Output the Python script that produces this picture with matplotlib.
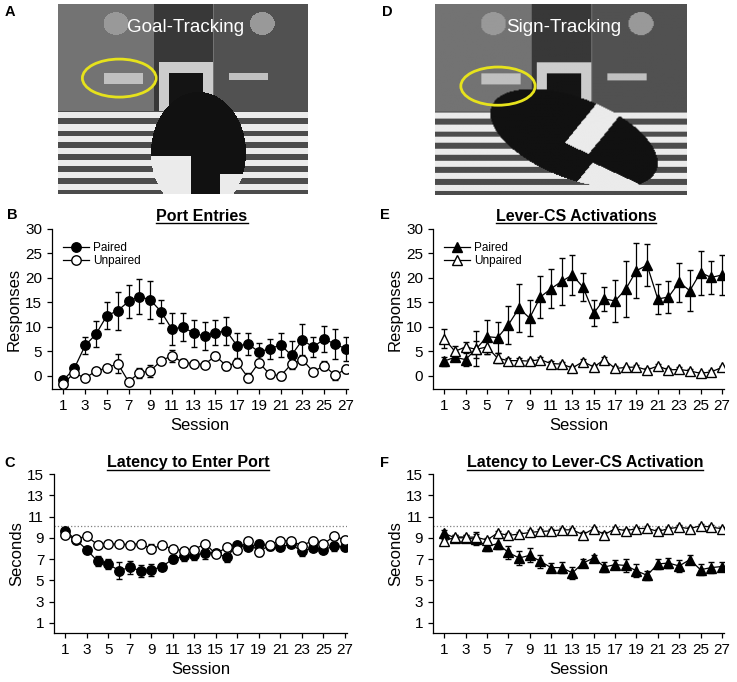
import numpy as np
import matplotlib
matplotlib.use("Agg")
import matplotlib.pyplot as plt
from matplotlib.lines import Line2D
from matplotlib.patches import Ellipse

plt.rcParams["font.family"] = ["Liberation Sans", "DejaVu Sans"]

sessions = np.arange(1, 28)

# Port entries (B)
port_paired = [-0.9, 1.5, 6.2, 8.5, 12.3, 13.3, 15.2, 16.2, 15.5, 13.1, 9.5, 10.0, 8.7, 8.1,
               8.8, 9.2, 6.1, 6.5, 4.9, 5.5, 6.3, 4.2, 7.3, 5.9, 7.5, 6.5, 5.5]
port_paired_err = [0.4, 0.5, 1.8, 2.6, 2.8, 3.9, 3.4, 3.6, 3.8, 2.4, 3.3, 2.9, 2.8, 2.9,
                   2.5, 2.9, 2.7, 2.3, 1.9, 2.0, 2.5, 2.9, 3.2, 2.0, 2.7, 3.0, 2.5]
port_unpaired = [-1.6, 0.6, -0.5, 1.0, 1.6, 2.5, -1.2, 0.6, 1.0, 3.1, 4.1, 2.7, 2.5, 2.3,
                 4.1, 2.0, 2.7, -0.4, 2.7, 0.3, 0.0, 2.4, 3.3, 0.8, 2.1, 0.1, 1.4]
port_unpaired_err = [0.5, 0.6, 0.6, 0.6, 0.7, 1.9, 0.7, 1.0, 1.3, 0.6, 1.2, 0.8, 0.7, 0.7,
                     0.7, 0.8, 1.0, 0.9, 0.8, 0.7, 0.8, 0.9, 0.9, 0.7, 0.9, 0.9, 0.8]

# Lever-CS activations (E)
lever_paired = [3.0, 3.8, 3.3, 5.5, 8.0, 7.8, 10.4, 13.8, 11.8, 16.1, 17.8, 19.3, 20.6, 18.1,
                12.8, 15.7, 15.3, 17.7, 21.5, 22.6, 15.7, 16.1, 19.1, 17.4, 21.1, 20.1, 20.6]
lever_paired_err = [0.9, 0.7, 1.3, 3.6, 3.5, 3.1, 3.9, 4.9, 3.6, 4.3, 4.0, 4.8, 4.1, 2.9,
                    2.6, 2.5, 4.3, 5.7, 5.6, 4.3, 3.1, 3.3, 4.0, 4.2, 4.5, 3.4, 4.0]
lever_unpaired = [7.6, 5.0, 5.9, 5.4, 5.9, 3.6, 3.1, 3.1, 3.0, 3.3, 2.5, 2.4, 1.6, 2.9,
                  1.8, 3.3, 1.5, 1.7, 1.8, 1.2, 2.0, 1.2, 1.3, 1.0, 0.5, 0.8, 1.7]
lever_unpaired_err = [2.0, 1.0, 1.0, 1.8, 1.5, 1.0, 0.6, 0.5, 0.5, 0.6, 0.5, 0.5, 0.5, 0.5,
                      0.4, 0.6, 0.4, 0.4, 0.5, 0.4, 0.4, 0.4, 0.4, 0.4, 0.3, 0.4, 0.4]

# Latency to enter port (C)
port_lat_paired = [9.67, 8.8, 7.88, 6.8, 6.54, 5.91, 6.22, 5.91, 5.97, 6.3, 7.0, 7.25, 7.4, 7.55,
                   7.6, 7.16, 8.35, 8.15, 8.45, 8.2, 8.15, 8.4, 7.72, 8.05, 7.9, 8.2, 8.15]
port_lat_paired_err = [0.2, 0.2, 0.3, 0.45, 0.5, 0.8, 0.6, 0.55, 0.55, 0.3, 0.4, 0.4, 0.45, 0.5,
                       0.3, 0.4, 0.3, 0.3, 0.3, 0.3, 0.3, 0.3, 0.4, 0.3, 0.35, 0.4, 0.3]
port_lat_unpaired = [9.23, 8.92, 9.14, 8.36, 8.42, 8.42, 8.36, 8.45, 7.98, 8.3, 7.95, 7.8, 7.9, 8.45,
                     7.48, 8.1, 7.89, 8.73, 7.63, 8.36, 8.73, 8.73, 8.26, 8.73, 8.42, 9.14, 8.83]
port_lat_unpaired_err = [0.2, 0.2, 0.2, 0.2, 0.2, 0.2, 0.2, 0.2, 0.4, 0.2, 0.2, 0.2, 0.2, 0.2,
                         0.3, 0.2, 0.3, 0.2, 0.3, 0.2, 0.2, 0.2, 0.2, 0.2, 0.2, 0.2, 0.2]

# Latency to lever-CS activation (F)
lever_lat_paired = [9.42, 9.0, 9.0, 8.85, 8.2, 8.45, 7.63, 7.1, 7.35, 6.8, 6.2, 6.2, 5.7, 6.63,
                    7.1, 6.26, 6.48, 6.4, 5.9, 5.47, 6.54, 6.63, 6.35, 6.95, 6.0, 6.2, 6.3]
lever_lat_paired_err = [0.3, 0.3, 0.3, 0.5, 0.45, 0.5, 0.6, 0.65, 0.65, 0.6, 0.45, 0.55, 0.55, 0.4,
                        0.3, 0.5, 0.45, 0.6, 0.6, 0.45, 0.5, 0.5, 0.6, 0.45, 0.5, 0.55, 0.45]
lever_lat_unpaired = [8.67, 9.08, 9.08, 9.05, 8.8, 9.45, 9.23, 9.35, 9.5, 9.6, 9.65, 9.75, 9.75, 9.3,
                      9.86, 9.3, 9.86, 9.67, 9.86, 9.9, 9.6, 9.86, 10.0, 9.86, 10.14, 10.0, 9.86]
lever_lat_unpaired_err = [0.2, 0.2, 0.2, 0.5, 0.2, 0.2, 0.2, 0.2, 0.2, 0.2, 0.2, 0.2, 0.2, 0.2,
                          0.2, 0.2, 0.2, 0.2, 0.2, 0.2, 0.2, 0.2, 0.2, 0.2, 0.2, 0.2, 0.2]

trial_length = 10.1

fig = plt.figure(figsize=(7.37, 6.82), dpi=100)
W, H = 737, 682


def px_axes(x0, y0, x1, y1):
    # pixel box (top-left origin) -> figure axes
    return fig.add_axes([x0 / W, 1 - y1 / H, (x1 - x0) / W, (y1 - y0) / H])


def fake_photo(ax, label, ell_xy, rat, white_bits):
    # rough grey stand-in for the video still (yy runs top -> bottom)
    h, w = 190, 250
    yy, xx = np.mgrid[0:h, 0:w] / np.array([h, w])[:, None, None]
    img = np.full((h, w), 0.45)
    img[(xx > 0.38) & (xx < 0.62)] = 0.22
    img[xx > 0.62] = 0.32
    for lx in (0.23, 0.815):
        img[((xx - lx) / 0.05) ** 2 + ((yy - 0.1) / 0.06) ** 2 < 1] = 0.6
    img[(yy > 0.3) & (yy < 0.56) & (xx > 0.4) & (xx < 0.62)] = 0.8
    img[(yy > 0.36) & (yy < 0.56) & (xx > 0.44) & (xx < 0.58)] = 0.08
    img[(yy > 0.36) & (yy < 0.42) & (xx > 0.18) & (xx < 0.34)] = 0.75
    img[(yy > 0.36) & (yy < 0.4) & (xx > 0.68) & (xx < 0.84)] = 0.75
    floor = yy > 0.56
    stripes = np.floor(yy * h / 6) % 2 == 0
    img[floor] = np.where(stripes[floor], 0.92, 0.3)
    cx, cy, rx, ry, ang = rat
    c, s = np.cos(ang), np.sin(ang)
    u = ((xx - cx) * c + (yy - cy) * s) / rx
    v = (-(xx - cx) * s + (yy - cy) * c) / ry
    body = u ** 2 + v ** 2 < 1
    img[body] = 0.07
    for u0, u1, v0, v1 in white_bits:
        img[body & (u > u0) & (u < u1) & (v > v0) & (v < v1)] = 0.92
    ax.imshow(img, cmap="gray", vmin=0, vmax=1, aspect="auto",
              extent=(0, 1, 0, 1), interpolation="bilinear")
    ax.add_patch(Ellipse(ell_xy, 0.295, 0.2, fill=False, edgecolor="#e6e21c", lw=2))
    ax.text(0.51, 0.875, label, color="white", fontsize=13.5, ha="center", va="center")
    ax.set_xlim(0, 1)
    ax.set_ylim(0, 1)
    ax.set_axis_off()


ax_a = px_axes(58, 4, 308, 194)
fake_photo(ax_a, "Goal-Tracking", (0.245, 0.61), (0.56, 0.78, 0.19, 0.32, 0.0),
           [(-1, -0.15, 0.05, 1), (0.45, 1, 0.35, 1)])
ax_d = px_axes(435, 4, 687, 195)
fake_photo(ax_d, "Sign-Tracking", (0.25, 0.57), (0.55, 0.7, 0.37, 0.2, 0.55),
           [(-0.05, 0.25, -1, 0.2), (0.35, 1, 0.35, 1)])


def series(ax, y, err, marker, face):
    ax.errorbar(sessions, y, yerr=err, fmt="-", marker=marker, color="black",
                mfc=face, mec="black", mew=1.0, ms=7 if marker == "^" else 6.8,
                lw=0.9, elinewidth=0.9, capsize=2, capthick=0.9, zorder=3)


def style(ax, ylim, yticks, ylabel, ypad):
    ax.set_xlim(-0.05, 27.2)
    ax.set_ylim(*ylim)
    ax.set_yticks(yticks)
    ax.set_xticks(np.arange(1, 28, 2))
    for side in ("top", "right"):
        ax.spines[side].set_visible(False)
    for side in ("left", "bottom"):
        ax.spines[side].set_linewidth(0.9)
    ax.tick_params(direction="out", length=3.6, width=0.9, labelsize=11, pad=3.5)
    ax.set_ylabel(ylabel, fontsize=12, labelpad=ypad)
    ax.set_xlabel("Session", fontsize=12, labelpad=3.5)


ax_b = px_axes(52, 229, 348, 389)
series(ax_b, port_paired, port_paired_err, "o", "black")
series(ax_b, port_unpaired, port_unpaired_err, "o", "white")
style(ax_b, (-2.7, 30), np.arange(0, 31, 5), "Responses", 2.5)

ax_e = px_axes(433, 229, 724, 389)
series(ax_e, lever_paired, lever_paired_err, "^", "black")
series(ax_e, lever_unpaired, lever_unpaired_err, "^", "white")
style(ax_e, (-2.7, 30), np.arange(0, 31, 5), "Responses", 2.5)

ax_c = px_axes(54, 474, 347, 633)
ax_c.axhline(trial_length, color="gray", ls=":", lw=0.9, zorder=1)
series(ax_c, port_lat_paired, port_lat_paired_err, "o", "black")
series(ax_c, port_lat_unpaired, port_lat_unpaired_err, "o", "white")
style(ax_c, (0.05, 15), np.arange(1, 16, 2), "Seconds", 2)

ax_f = px_axes(433, 474, 724, 633)
ax_f.axhline(trial_length, color="gray", ls=":", lw=0.9, zorder=1)
series(ax_f, lever_lat_paired, lever_lat_paired_err, "^", "black")
series(ax_f, lever_lat_unpaired, lever_lat_unpaired_err, "^", "white")
style(ax_f, (0.05, 15), np.arange(1, 16, 2), "Seconds", 2)

for ax, m in ((ax_b, "o"), (ax_e, "^")):
    handles = [Line2D([], [], color="black", lw=0.9, marker=m, mfc=f, mec="black",
                      ms=7 if m == "^" else 6.8) for f in ("black", "white")]
    ax.legend(handles, ["Paired", "Unpaired"], loc="upper left", bbox_to_anchor=(0.02, 0.95),
              frameon=False, fontsize=8.5, handlelength=2.2, handletextpad=0.4,
              labelspacing=0.15, borderaxespad=0)

# panel letters
for letter, x, y in (("A", 10, 12), ("D", 387, 12), ("B", 12, 215),
                     ("E", 385, 215), ("C", 10, 463), ("F", 385, 463)):
    fig.text(x / W, 1 - y / H, letter, fontsize=10.5, fontweight="bold", ha="center", va="center")

# underlined titles
titles = []
for s, x, y in (("Port Entries", 202, 221), ("Lever-CS Activations", 576, 221),
                ("Latency to Enter Port", 188, 467.5), ("Latency to Lever-CS Activation", 585, 467.5)):
    titles.append(fig.text(x / W, 1 - y / H, s, fontsize=11.5, fontweight="bold",
                           ha="center", va="baseline"))

fig.canvas.draw()
renderer = fig.canvas.get_renderer()
for t in titles:
    bb = t.get_window_extent(renderer)
    _, yb = t.get_position()
    yl = yb - 2.2 / H
    fig.add_artist(Line2D([bb.x0 / W, bb.x1 / W], [yl, yl], color="black", lw=1.0,
                          transform=fig.transFigure))

fig.savefig("out.png", dpi=100)
